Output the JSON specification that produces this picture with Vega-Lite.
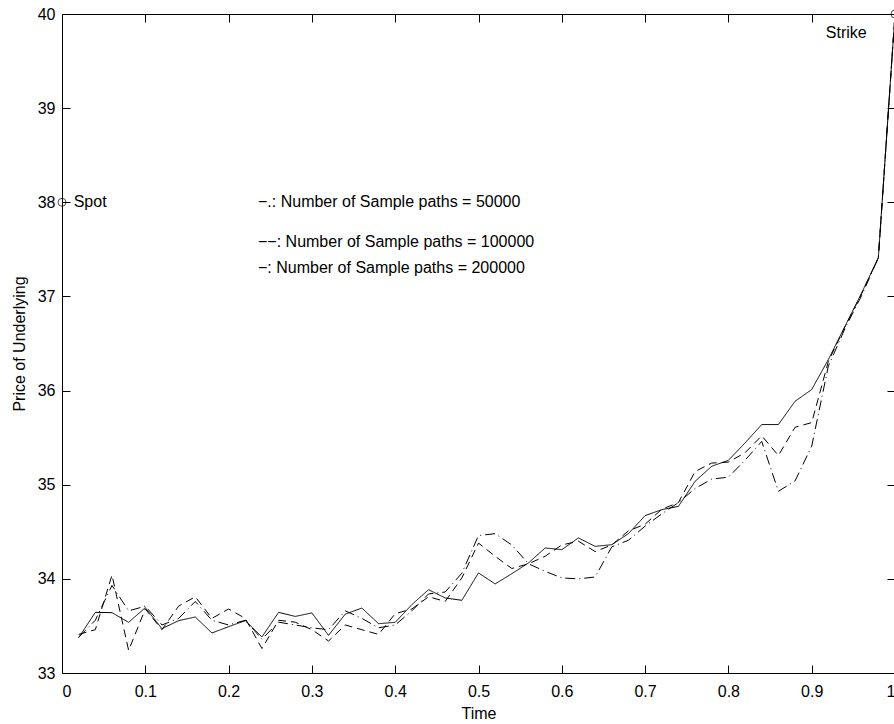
{
  "$schema": "https://vega.github.io/schema/vega-lite/v6.json",
  "width": 833,
  "height": 659,
  "autosize": {"type": "none"},
  "padding": {"left": 62, "top": 14, "right": 0, "bottom": 51},
  "background": "white",
  "config": {
    "view": {"stroke": "black", "strokeWidth": 1},
    "font": "Liberation Sans",
    "axis": {"grid": false, "domain": false, "tickColor": "black", "labelColor": "black", "titleColor": "black", "labelFont": "Liberation Sans", "titleFont": "Liberation Sans", "labelFontSize": 16, "titleFontSize": 16, "titleFontWeight": "normal", "tickSize": -8}
  },
  "datasets": {
    "paths": [
      {"t": 0.02, "price": 33.38, "series": "50000"},
      {"t": 0.04, "price": 33.56, "series": "50000"},
      {"t": 0.06, "price": 33.93, "series": "50000"},
      {"t": 0.08, "price": 33.66, "series": "50000"},
      {"t": 0.10, "price": 33.71, "series": "50000"},
      {"t": 0.12, "price": 33.51, "series": "50000"},
      {"t": 0.14, "price": 33.58, "series": "50000"},
      {"t": 0.16, "price": 33.76, "series": "50000"},
      {"t": 0.18, "price": 33.56, "series": "50000"},
      {"t": 0.20, "price": 33.51, "series": "50000"},
      {"t": 0.22, "price": 33.56, "series": "50000"},
      {"t": 0.24, "price": 33.36, "series": "50000"},
      {"t": 0.26, "price": 33.54, "series": "50000"},
      {"t": 0.28, "price": 33.51, "series": "50000"},
      {"t": 0.30, "price": 33.48, "series": "50000"},
      {"t": 0.32, "price": 33.46, "series": "50000"},
      {"t": 0.34, "price": 33.66, "series": "50000"},
      {"t": 0.36, "price": 33.58, "series": "50000"},
      {"t": 0.38, "price": 33.48, "series": "50000"},
      {"t": 0.40, "price": 33.51, "series": "50000"},
      {"t": 0.42, "price": 33.66, "series": "50000"},
      {"t": 0.44, "price": 33.84, "series": "50000"},
      {"t": 0.46, "price": 33.86, "series": "50000"},
      {"t": 0.48, "price": 34.06, "series": "50000"},
      {"t": 0.50, "price": 34.46, "series": "50000"},
      {"t": 0.52, "price": 34.48, "series": "50000"},
      {"t": 0.54, "price": 34.36, "series": "50000"},
      {"t": 0.56, "price": 34.16, "series": "50000"},
      {"t": 0.58, "price": 34.08, "series": "50000"},
      {"t": 0.60, "price": 34.01, "series": "50000"},
      {"t": 0.62, "price": 34.00, "series": "50000"},
      {"t": 0.64, "price": 34.02, "series": "50000"},
      {"t": 0.66, "price": 34.34, "series": "50000"},
      {"t": 0.68, "price": 34.41, "series": "50000"},
      {"t": 0.70, "price": 34.56, "series": "50000"},
      {"t": 0.72, "price": 34.69, "series": "50000"},
      {"t": 0.74, "price": 34.81, "series": "50000"},
      {"t": 0.76, "price": 34.96, "series": "50000"},
      {"t": 0.78, "price": 35.06, "series": "50000"},
      {"t": 0.80, "price": 35.08, "series": "50000"},
      {"t": 0.82, "price": 35.26, "series": "50000"},
      {"t": 0.84, "price": 35.46, "series": "50000"},
      {"t": 0.86, "price": 34.93, "series": "50000"},
      {"t": 0.88, "price": 35.04, "series": "50000"},
      {"t": 0.90, "price": 35.41, "series": "50000"},
      {"t": 0.92, "price": 36.26, "series": "50000"},
      {"t": 0.94, "price": 36.66, "series": "50000"},
      {"t": 0.96, "price": 37.01, "series": "50000"},
      {"t": 0.98, "price": 37.41, "series": "50000"},
      {"t": 1.00, "price": 40.00, "series": "50000"},
      {"t": 0.02, "price": 33.41, "series": "100000"},
      {"t": 0.04, "price": 33.46, "series": "100000"},
      {"t": 0.06, "price": 34.04, "series": "100000"},
      {"t": 0.08, "price": 33.24, "series": "100000"},
      {"t": 0.10, "price": 33.68, "series": "100000"},
      {"t": 0.12, "price": 33.46, "series": "100000"},
      {"t": 0.14, "price": 33.71, "series": "100000"},
      {"t": 0.16, "price": 33.81, "series": "100000"},
      {"t": 0.18, "price": 33.58, "series": "100000"},
      {"t": 0.20, "price": 33.68, "series": "100000"},
      {"t": 0.22, "price": 33.58, "series": "100000"},
      {"t": 0.24, "price": 33.26, "series": "100000"},
      {"t": 0.26, "price": 33.56, "series": "100000"},
      {"t": 0.28, "price": 33.54, "series": "100000"},
      {"t": 0.30, "price": 33.46, "series": "100000"},
      {"t": 0.32, "price": 33.34, "series": "100000"},
      {"t": 0.34, "price": 33.51, "series": "100000"},
      {"t": 0.36, "price": 33.46, "series": "100000"},
      {"t": 0.38, "price": 33.41, "series": "100000"},
      {"t": 0.40, "price": 33.63, "series": "100000"},
      {"t": 0.42, "price": 33.68, "series": "100000"},
      {"t": 0.44, "price": 33.81, "series": "100000"},
      {"t": 0.46, "price": 33.76, "series": "100000"},
      {"t": 0.48, "price": 34.01, "series": "100000"},
      {"t": 0.50, "price": 34.38, "series": "100000"},
      {"t": 0.52, "price": 34.24, "series": "100000"},
      {"t": 0.54, "price": 34.11, "series": "100000"},
      {"t": 0.56, "price": 34.16, "series": "100000"},
      {"t": 0.58, "price": 34.24, "series": "100000"},
      {"t": 0.60, "price": 34.36, "series": "100000"},
      {"t": 0.62, "price": 34.40, "series": "100000"},
      {"t": 0.64, "price": 34.29, "series": "100000"},
      {"t": 0.66, "price": 34.36, "series": "100000"},
      {"t": 0.68, "price": 34.51, "series": "100000"},
      {"t": 0.70, "price": 34.58, "series": "100000"},
      {"t": 0.72, "price": 34.74, "series": "100000"},
      {"t": 0.74, "price": 34.81, "series": "100000"},
      {"t": 0.76, "price": 35.14, "series": "100000"},
      {"t": 0.78, "price": 35.23, "series": "100000"},
      {"t": 0.80, "price": 35.24, "series": "100000"},
      {"t": 0.82, "price": 35.34, "series": "100000"},
      {"t": 0.84, "price": 35.52, "series": "100000"},
      {"t": 0.86, "price": 35.31, "series": "100000"},
      {"t": 0.88, "price": 35.61, "series": "100000"},
      {"t": 0.90, "price": 35.66, "series": "100000"},
      {"t": 0.92, "price": 36.31, "series": "100000"},
      {"t": 0.94, "price": 36.68, "series": "100000"},
      {"t": 0.96, "price": 37.03, "series": "100000"},
      {"t": 0.98, "price": 37.41, "series": "100000"},
      {"t": 1.00, "price": 40.00, "series": "100000"},
      {"t": 0.02, "price": 33.375, "series": "200000"},
      {"t": 0.04, "price": 33.644, "series": "200000"},
      {"t": 0.06, "price": 33.641, "series": "200000"},
      {"t": 0.08, "price": 33.538, "series": "200000"},
      {"t": 0.10, "price": 33.694, "series": "200000"},
      {"t": 0.12, "price": 33.471, "series": "200000"},
      {"t": 0.14, "price": 33.556, "series": "200000"},
      {"t": 0.16, "price": 33.595, "series": "200000"},
      {"t": 0.18, "price": 33.425, "series": "200000"},
      {"t": 0.20, "price": 33.492, "series": "200000"},
      {"t": 0.22, "price": 33.556, "series": "200000"},
      {"t": 0.24, "price": 33.383, "series": "200000"},
      {"t": 0.26, "price": 33.644, "series": "200000"},
      {"t": 0.28, "price": 33.601, "series": "200000"},
      {"t": 0.30, "price": 33.638, "series": "200000"},
      {"t": 0.32, "price": 33.40, "series": "200000"},
      {"t": 0.34, "price": 33.625, "series": "200000"},
      {"t": 0.36, "price": 33.69, "series": "200000"},
      {"t": 0.38, "price": 33.524, "series": "200000"},
      {"t": 0.40, "price": 33.538, "series": "200000"},
      {"t": 0.42, "price": 33.726, "series": "200000"},
      {"t": 0.44, "price": 33.885, "series": "200000"},
      {"t": 0.46, "price": 33.797, "series": "200000"},
      {"t": 0.48, "price": 33.772, "series": "200000"},
      {"t": 0.50, "price": 34.063, "series": "200000"},
      {"t": 0.52, "price": 33.946, "series": "200000"},
      {"t": 0.54, "price": 34.055, "series": "200000"},
      {"t": 0.56, "price": 34.169, "series": "200000"},
      {"t": 0.58, "price": 34.328, "series": "200000"},
      {"t": 0.60, "price": 34.31, "series": "200000"},
      {"t": 0.62, "price": 34.435, "series": "200000"},
      {"t": 0.64, "price": 34.345, "series": "200000"},
      {"t": 0.66, "price": 34.363, "series": "200000"},
      {"t": 0.68, "price": 34.48, "series": "200000"},
      {"t": 0.70, "price": 34.672, "series": "200000"},
      {"t": 0.72, "price": 34.735, "series": "200000"},
      {"t": 0.74, "price": 34.77, "series": "200000"},
      {"t": 0.76, "price": 35.036, "series": "200000"},
      {"t": 0.78, "price": 35.196, "series": "200000"},
      {"t": 0.80, "price": 35.259, "series": "200000"},
      {"t": 0.82, "price": 35.444, "series": "200000"},
      {"t": 0.84, "price": 35.639, "series": "200000"},
      {"t": 0.86, "price": 35.639, "series": "200000"},
      {"t": 0.88, "price": 35.886, "series": "200000"},
      {"t": 0.90, "price": 36.011, "series": "200000"},
      {"t": 0.92, "price": 36.33, "series": "200000"},
      {"t": 0.94, "price": 36.683, "series": "200000"},
      {"t": 0.96, "price": 37.038, "series": "200000"},
      {"t": 0.98, "price": 37.41, "series": "200000"},
      {"t": 1.00, "price": 40.00, "series": "200000"}
    ],
    "markers": [
      {"t": 0, "price": 38, "name": "Spot"},
      {"t": 1, "price": 40, "name": "Strike"}
    ],
    "notes": [
      {"t": 0.014, "price": 38.0, "label": "Spot"},
      {"t": 0.917, "price": 39.8, "label": "Strike"},
      {"t": 0.2353, "price": 38.0, "label": "−.: Number of Sample paths = 50000"},
      {"t": 0.2353, "price": 37.58, "label": "−−: Number of Sample paths = 100000"},
      {"t": 0.2353, "price": 37.3, "label": "−: Number of Sample paths = 200000"}
    ]
  },
  "resolve": {"axis": {"x": "independent", "y": "independent"}},
  "layer": [
    {
      "data": {"name": "paths"},
      "mark": {"type": "line", "color": "black", "strokeWidth": 1, "clip": true},
      "encoding": {
        "x": {"field": "t", "type": "quantitative", "scale": {"domain": [0, 1], "nice": false, "zero": false},
              "axis": {"orient": "bottom", "values": [0, 0.1, 0.2, 0.3, 0.4, 0.5, 0.6, 0.7, 0.8, 0.9, 1], "format": "~g", "title": "Time", "labelPadding": 18, "titlePadding": 6}},
        "y": {"field": "price", "type": "quantitative", "scale": {"domain": [33, 40], "nice": false, "zero": false},
              "axis": {"orient": "left", "values": [33, 34, 35, 36, 37, 38, 39, 40], "title": "Price of Underlying", "labelPadding": 15, "titlePadding": 10}},
        "strokeDash": {"field": "series", "type": "nominal", "legend": null,
              "scale": {"domain": ["50000", "100000", "200000"], "range": [[10, 4, 1, 4], [8, 5], [1, 0]]}},
        "order": {"field": "t", "type": "quantitative"}
      }
    },
    {
      "data": {"name": "markers"},
      "mark": {"type": "point", "shape": "circle", "filled": false, "color": "black", "strokeWidth": 1, "size": 64},
      "encoding": {
        "x": {"field": "t", "type": "quantitative", "axis": {"orient": "top", "values": [0, 0.1, 0.2, 0.3, 0.4, 0.5, 0.6, 0.7, 0.8, 0.9, 1], "labels": false, "title": null}},
        "y": {"field": "price", "type": "quantitative", "axis": {"orient": "right", "values": [33, 34, 35, 36, 37, 38, 39, 40], "labels": false, "title": null}}
      }
    },
    {
      "data": {"name": "notes"},
      "mark": {"type": "text", "align": "left", "baseline": "middle", "fontSize": 16, "font": "Liberation Sans", "color": "black"},
      "encoding": {
        "x": {"field": "t", "type": "quantitative", "axis": null},
        "y": {"field": "price", "type": "quantitative", "axis": null},
        "text": {"field": "label"}
      }
    }
  ]
}
